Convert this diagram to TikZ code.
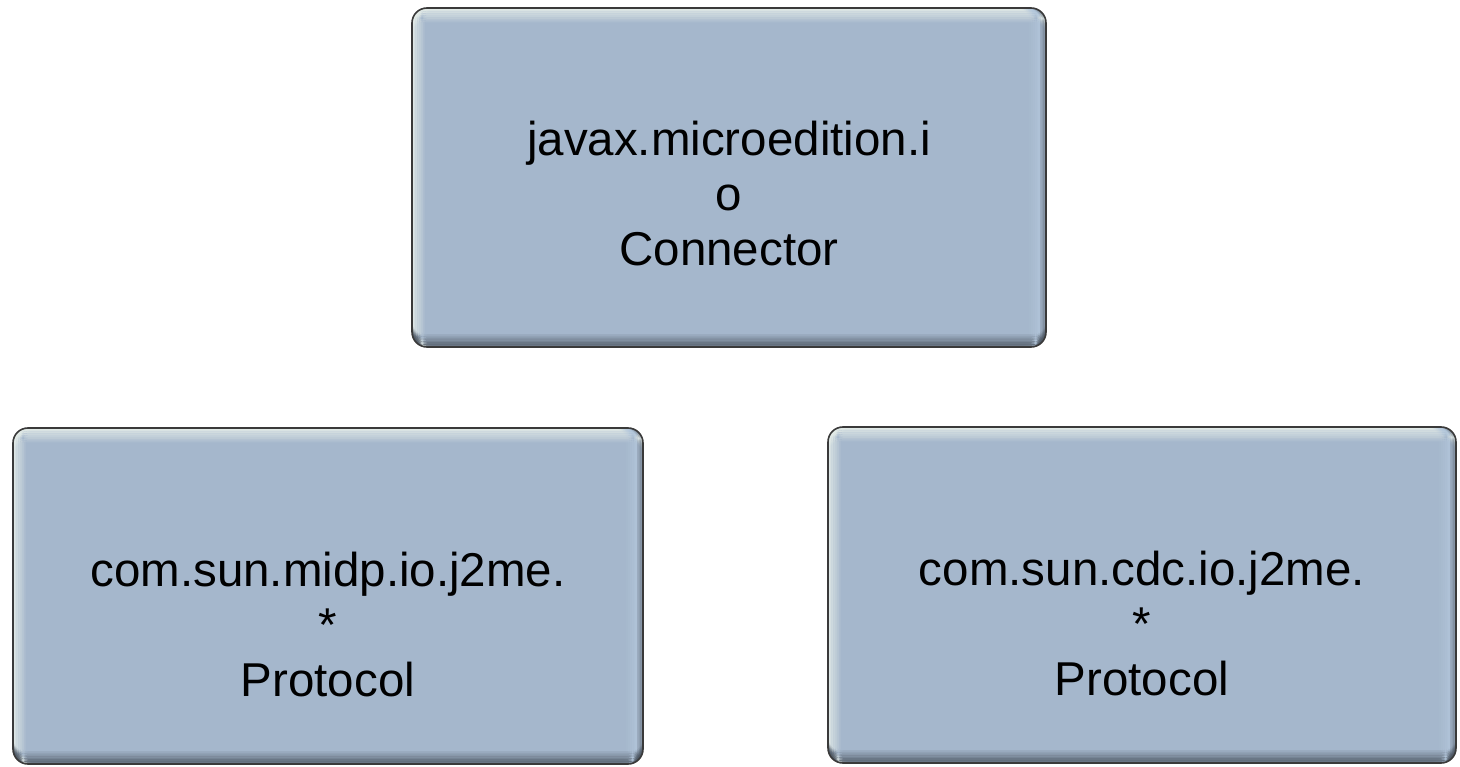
\documentclass[tikz,border=0pt]{standalone}
\usepackage{fontspec}
\setmainfont{Liberation Sans}
\usetikzlibrary{backgrounds}
\definecolor{boxfill}{HTML}{A5B7CC}
\definecolor{boxhl}{HTML}{E4ECE8}
\definecolor{boxdark}{HTML}{4E5864}
\definecolor{boxrightl}{HTML}{B4C8DC}
\definecolor{boxrightd}{HTML}{6C7886}
\definecolor{boxline}{HTML}{3A3A3A}
\definecolor{shadowc}{HTML}{6A6262}
\tikzset{
  panel/.style={rectangle, rounded corners=15pt, inner sep=0pt,
    fill=boxfill, draw=boxline, line width=1.6pt,
    path picture={
      % left highlight
      \foreach \i [evaluate=\i as \op using 0.9*(1-\i/7)] in {0,...,6}{
        \fill[boxhl, opacity=\op]
          ([xshift=1.8*\i]path picture bounding box.north west) rectangle
          ([xshift=1.8*\i+1.8]path picture bounding box.south west);
      }
      % top highlight
      \foreach \i [evaluate=\i as \op using 0.95*(1-\i/8)] in {0,...,7}{
        \fill[boxhl, opacity=\op]
          ([yshift=-1.8*\i]path picture bounding box.north west) rectangle
          ([yshift=-1.8*\i-1.8]path picture bounding box.north east);
      }
      % right edge: light then dark
      \foreach \i [evaluate=\i as \op using 0.7*(1-\i/6)] in {0,...,5}{
        \fill[boxrightl, opacity=\op]
          ([xshift=-6-1.8*\i]path picture bounding box.north east) rectangle
          ([xshift=-6-1.8*\i-1.8]path picture bounding box.south east);
      }
      \foreach \i [evaluate=\i as \op using 0.75*(1-\i/4)] in {0,...,3}{
        \fill[boxrightd, opacity=\op]
          ([xshift=-1.5*\i]path picture bounding box.north east) rectangle
          ([xshift=-1.5*\i-1.5]path picture bounding box.south east);
      }
      % bottom shade
      \foreach \i [evaluate=\i as \op using 0.85*(1-\i/8)] in {0,...,7}{
        \fill[boxdark, opacity=\op]
          ([yshift=1.6*\i]path picture bounding box.south west) rectangle
          ([yshift=1.6*\i+1.6]path picture bounding box.south east);
      }
    }},
  lbl/.style={inner sep=0pt, align=center, text=black,
    font=\fontsize{47.5}{55}\selectfont},
  shade layer/.style={fill=shadowc, opacity=0.09, rounded corners=17pt}
}
\begin{document}
\begin{tikzpicture}[x=1pt, y=-1pt]
  \useasboundingbox (0,0) rectangle (1460,767);
  \fill[white] (0,0) rectangle (1460,767);

  \node[panel, minimum width=634pt, minimum height=339pt] (top) at (729,177.5) {};
  \node[panel, minimum width=630pt, minimum height=336pt] (midp) at (328,596) {};
  \node[panel, minimum width=628pt, minimum height=336pt] (cdc) at (1142,595) {};

  \begin{pgfonlayer}{background}
    \foreach \n in {top,midp,cdc}{
      \foreach \i in {1,...,7}{
        \fill[shade layer] ([shift={(\i-4,\i-1)}]\n.north west) rectangle
          ([shift={(2.2*\i,2.8*\i)}]\n.south east);
      }
    }
  \end{pgfonlayer}

  \node[lbl] (toptext) at (729,194) {javax.microedition.i\\o\\Connector};
  \node[lbl] (midptext) at (328,625) {com.sun.midp.io.j2me.\\*\\Protocol};
  \node[lbl] (cdctext) at (1142,624) {com.sun.cdc.io.j2me.\\*\\Protocol};
\end{tikzpicture}
\end{document}
